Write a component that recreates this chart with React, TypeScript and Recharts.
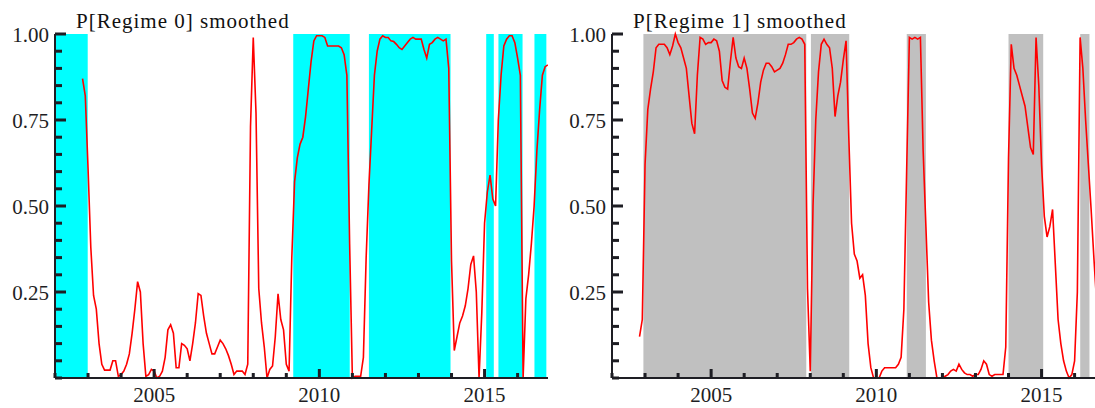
import { ComposedChart, Line, XAxis, YAxis, ReferenceArea } from 'recharts'

// monthly smoothed regime probabilities, first month Nov 2002
const START_YEAR = 2002 + 10 / 12

const P_REGIME0 = [
  0.87, 0.82, 0.61, 0.38, 0.24, 0.20, 0.10, 0.04, 0.023, 0.023,
  0.023, 0.05, 0.05, 0.005, 0.01, 0.02, 0.04, 0.07, 0.13, 0.20,
  0.28, 0.25, 0.10, 0.005, 0.01, 0.025, 0.02, 0.0, 0.005, 0.02,
  0.06, 0.14, 0.155, 0.13, 0.03, 0.03, 0.10, 0.095, 0.085, 0.05,
  0.10, 0.16, 0.245, 0.24, 0.18, 0.13, 0.10, 0.07, 0.07, 0.09,
  0.11, 0.10, 0.085, 0.065, 0.04, 0.01, 0.02, 0.02, 0.02, 0.01,
  0.04, 0.73, 0.99, 0.77, 0.26, 0.16, 0.09, 0.0, 0.025, 0.035,
  0.12, 0.245, 0.17, 0.14, 0.04, 0.02, 0.35, 0.57, 0.64, 0.68,
  0.70, 0.76, 0.84, 0.92, 0.98, 0.995, 0.995, 0.995, 0.99, 0.965,
  0.965, 0.965, 0.965, 0.965, 0.96, 0.94, 0.88, 0.39, 0.0, 0.005,
  0.005, 0.005, 0.06, 0.35, 0.56, 0.72, 0.88, 0.95, 0.985, 0.995,
  0.99, 0.99, 0.98, 0.978, 0.97, 0.96, 0.955, 0.965, 0.975, 0.985,
  0.99, 0.985, 0.985, 0.985, 0.955, 0.93, 0.97, 0.975, 0.985, 0.99,
  0.985, 0.98, 0.985, 0.90, 0.34, 0.08, 0.12, 0.16, 0.18, 0.21,
  0.26, 0.33, 0.355, 0.25, 0.0, 0.19, 0.45, 0.54, 0.59, 0.52,
  0.50, 0.75, 0.88, 0.965, 0.985, 0.995, 0.995, 0.975, 0.93, 0.88,
  0.0, 0.23, 0.30, 0.39, 0.50, 0.66, 0.78, 0.88, 0.905, 0.91,
]

const P_REGIME1 = [
  0.12, 0.17, 0.62, 0.78, 0.84, 0.89, 0.96, 0.97, 0.97, 0.97,
  0.96, 0.94, 0.965, 1.0, 0.975, 0.96, 0.93, 0.90, 0.82, 0.74,
  0.71, 0.88, 0.99, 0.985, 0.97, 0.975, 0.975, 0.985, 0.98, 0.95,
  0.865, 0.845, 0.84, 0.92, 0.99, 0.93, 0.905, 0.90, 0.93, 0.90,
  0.84, 0.77, 0.755, 0.80, 0.86, 0.895, 0.915, 0.915, 0.905, 0.89,
  0.895, 0.90, 0.915, 0.94, 0.97, 0.97, 0.975, 0.985, 0.99, 0.985,
  0.97, 0.26, 0.02, 0.50, 0.75, 0.89, 0.97, 0.985, 0.97, 0.96,
  0.90, 0.76, 0.82, 0.86, 0.925, 0.98, 0.70, 0.45, 0.36, 0.34,
  0.29, 0.30, 0.24, 0.10, 0.03, 0.0, 0.0, 0.0, 0.02, 0.03,
  0.03, 0.03, 0.03, 0.03, 0.04, 0.06, 0.20, 0.60, 0.99, 0.985,
  0.99, 0.985, 0.99, 0.66, 0.44, 0.22, 0.11, 0.05, 0.0, 0.0,
  0.0, 0.005, 0.01, 0.02, 0.025, 0.02, 0.04, 0.025, 0.015, 0.01,
  0.01, 0.005, 0.01, 0.01, 0.025, 0.05, 0.04, 0.01, 0.005, 0.01,
  0.01, 0.01, 0.01, 0.09, 0.64, 0.97, 0.90, 0.88, 0.85, 0.82,
  0.79, 0.73, 0.67, 0.65, 0.99, 0.85, 0.62, 0.47, 0.41, 0.44,
  0.49, 0.33, 0.17, 0.10, 0.05, 0.02, 0.0, 0.01, 0.05, 0.25,
  0.99, 0.90, 0.75, 0.62, 0.49, 0.35, 0.22, 0.12, 0.10, 0.09,
]

// shaded regime periods [from, to] in years
const REGIME0_BANDS: [number, number][] = [
  [2002.0, 2002.99], [2009.21, 2010.92], [2011.5, 2013.97],
  [2015.05, 2015.28], [2015.42, 2016.15], [2016.51, 2016.87],
]
const REGIME1_BANDS: [number, number][] = [
  [2002.95, 2007.88], [2008.02, 2009.18], [2010.92, 2011.5],
  [2014.0, 2015.05], [2016.17, 2016.45],
]

const X_DOMAIN: [number, number] = [2002, 2016.92]
const X_TICKS = [2002, 2003, 2004, 2005, 2006, 2007, 2008, 2009, 2010, 2011, 2012, 2013, 2014, 2015, 2016]
const X_LABELS = [2005, 2010, 2015]
const Y_TICKS = [0, 0.05, 0.1, 0.15, 0.2, 0.25, 0.3, 0.35, 0.4, 0.45, 0.5, 0.55, 0.6, 0.65, 0.7, 0.75, 0.8, 0.85, 0.9, 0.95, 1]
const Y_LABELS = [0.25, 0.5, 0.75, 1]

const data = P_REGIME0.map((p0, i) => ({ t: START_YEAR + i / 12, p0, p1: P_REGIME1[i] }))

const FONT = '"Liberation Serif", "Times New Roman", serif'
const INK = '#1e1e24'

const isYLabel = (v: number) => Y_LABELS.some((l) => Math.abs(l - v) < 1e-9)

// inward tick marks drawn next to each label
function XTick(props: any) {
  const x = Number(props.x)
  const y = Number(props.y)
  const v = props.payload.value
  const major = X_LABELS.includes(v)
  return (
    <g>
      <rect x={x - 1.5} y={y - (major ? 9 : 5)} width={3} height={major ? 9 : 5} fill={INK} />
      {major && (
        <text x={x} y={y + 24} textAnchor="middle" fontFamily={FONT} fontSize={21} fill={INK}>
          {v}
        </text>
      )}
    </g>
  )
}

function YTick(props: any) {
  const x = Number(props.x)
  const y = Number(props.y)
  const v = props.payload.value
  const major = isYLabel(v)
  return (
    <g>
      <rect x={x} y={y - 1.5} width={major ? 11 : 7} height={3} fill={INK} />
      {major && (
        <text x={x - 6} y={y + 8} textAnchor="end" fontFamily={FONT} fontSize={21} fill={INK}>
          {v.toFixed(2)}
        </text>
      )}
    </g>
  )
}

interface PanelProps {
  left: number
  title: string
  dataKey: 'p0' | 'p1'
  bands: [number, number][]
  fill: string
}

function Panel({ left, title, dataKey, bands, fill }: PanelProps) {
  return (
    <div style={{ position: 'absolute', left, top: 0, width: 560, height: 408 }}>
      <ComposedChart width={560} height={408} data={data} margin={{ top: 34, right: 12, bottom: 0, left: 0 }}>
        {bands.map(([a, b], i) => (
          <ReferenceArea key={`b${i}`} x1={a} x2={b} y1={0} y2={1} fill={fill} fillOpacity={1} stroke="none" />
        ))}
        <Line
          dataKey={dataKey}
          type="linear"
          stroke="#ff0000"
          strokeWidth={1.6}
          dot={false}
          isAnimationActive={false}
        />
        <XAxis
          dataKey="t"
          type="number"
          domain={X_DOMAIN}
          ticks={X_TICKS}
          interval={0}
          height={30}
          tickSize={0}
          tickMargin={0}
          tickLine={false}
          tick={(p: any) => <XTick {...p} />}
          axisLine={{ stroke: INK, strokeWidth: 2 }}
          allowDataOverflow
        />
        <YAxis
          type="number"
          domain={[0, 1]}
          ticks={Y_TICKS}
          interval={0}
          width={55}
          tickSize={0}
          tickMargin={0}
          tickLine={false}
          tick={(p: any) => <YTick {...p} />}
          axisLine={{ stroke: INK, strokeWidth: 2 }}
        />
      </ComposedChart>
      <div
        style={{
          position: 'absolute', left: 76, top: 11, fontFamily: FONT, fontSize: 21,
          lineHeight: '21px', letterSpacing: 1, color: '#111', whiteSpace: 'nowrap',
        }}
      >
        {title}
      </div>
    </div>
  )
}

export default function App() {
  return (
    <div style={{ position: 'absolute', left: 0, top: 0, width: 1095, height: 408, overflow: 'hidden', background: '#fff' }}>
      <Panel left={0} title="P[Regime 0] smoothed" dataKey="p0" bands={REGIME0_BANDS} fill="#00ffff" />
      <Panel left={557} title="P[Regime 1] smoothed" dataKey="p1" bands={REGIME1_BANDS} fill="#c0c0c0" />
    </div>
  )
}
